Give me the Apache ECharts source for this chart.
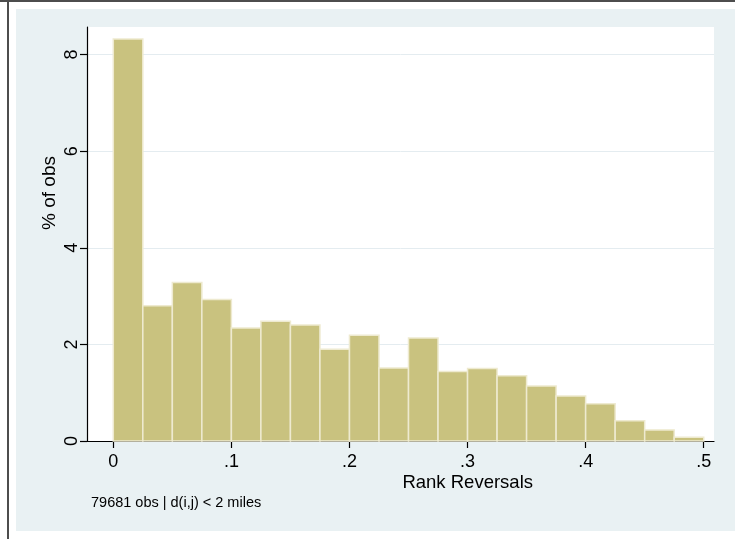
<!DOCTYPE html>
<html>
<head>
<meta charset="utf-8">
<script src="https://cdn.jsdelivr.net/npm/echarts@6/dist/echarts.min.js"></script>
<style>
  html, body { margin: 0; padding: 0; background: #ffffff; }
  #frame { position: absolute; left: 0; top: 0; width: 735px; height: 539px; overflow: hidden; }
  #topRule { position: absolute; left: 0; top: 0; width: 735px; height: 2px; background: #4d4d4d; }
  #leftRule { position: absolute; left: 7px; top: 0; width: 2px; height: 539px; background: #4d4d4d; }
  #region { position: absolute; left: 16px; top: 9px; width: 719px; height: 522px; background: #e9f1f3; }
  #chart { position: absolute; left: 0; top: 0; width: 735px; height: 539px; }
</style>
</head>
<body>
<div id="frame">
  <div id="topRule"></div>
  <div id="leftRule"></div>
  <div id="region"></div>
  <div id="chart"></div>
</div>
<script>
// Histogram bins: left edge of each bin and percent of observations in it
const binStarts = [0, 0.025, 0.05, 0.075, 0.1, 0.125, 0.15, 0.175, 0.2, 0.225,
                   0.25, 0.275, 0.3, 0.325, 0.35, 0.375, 0.4, 0.425, 0.45, 0.475];
const binWidth = 0.025;
const pctObs = [8.32, 2.80, 3.28, 2.93, 2.34, 2.48, 2.40, 1.90, 2.19, 1.51,
                2.13, 1.44, 1.50, 1.35, 1.14, 0.93, 0.77, 0.42, 0.23, 0.08];

// Axis ticks and their labels
const xTicks = [0, 0.1, 0.2, 0.3, 0.4, 0.5];
const xTickLabels = ['0', '.1', '.2', '.3', '.4', '.5'];
const yTicks = [0, 2, 4, 6, 8];
const yTickLabels = ['0', '2', '4', '6', '8'];

const xTitle = 'Rank Reversals';
const yTitle = '% of obs';
const note = '79681 obs | d(i,j) < 2 miles';

const FONT = '"Liberation Sans", Arial, Helvetica, sans-serif';

function lookup(ticks, labels, v) {
  const i = ticks.findIndex(t => Math.abs(t - v) < 1e-9);
  return i >= 0 ? labels[i] : '';
}

const chart = echarts.init(document.getElementById('chart'), null, { renderer: 'canvas' });

chart.setOption({
  backgroundColor: 'transparent',
  animation: false,
  grid: {
    left: 87, top: 27, width: 627, height: 414,
    show: true, backgroundColor: '#ffffff', borderWidth: 0
  },
  xAxis: {
    type: 'value',
    min: -0.02227, max: 0.5087,
    axisLine: { show: true, onZero: false, lineStyle: { color: '#000000', width: 1.2 } },
    axisTick: { show: true, customValues: xTicks, length: 7, lineStyle: { color: '#000000', width: 1.2 } },
    axisLabel: {
      show: true, customValues: xTicks, margin: 12,
      fontFamily: FONT, fontSize: 18, color: '#000000',
      formatter: v => lookup(xTicks, xTickLabels, v)
    },
    splitLine: { show: false }
  },
  yAxis: {
    type: 'value',
    min: 0, max: 8.571, interval: 2,
    axisLine: { show: true, onZero: false, lineStyle: { color: '#000000', width: 1.2 } },
    axisTick: { show: true, customValues: yTicks, length: 7, lineStyle: { color: '#000000', width: 1.2 } },
    axisLabel: {
      show: true, customValues: yTicks, margin: 6, rotate: 90,
      fontFamily: FONT, fontSize: 18, color: '#000000',
      formatter: v => lookup(yTicks, yTickLabels, v)
    },
    splitLine: { show: true, lineStyle: { color: '#e4ecf0', width: 1 } }
  },
  series: [{
    type: 'custom',
    data: binStarts.map((s, i) => [s, s + binWidth, pctObs[i]]),
    encode: { x: [0, 1], y: 2 },
    renderItem: function (params, api) {
      const top = api.coord([api.value(0), api.value(2)]);
      const base = api.coord([api.value(1), 0]);
      return {
        type: 'rect',
        shape: { x: top[0], y: top[1], width: base[0] - top[0], height: base[1] - top[1] },
        style: { fill: '#c9c27f', stroke: '#eeead0', lineWidth: 1.5 }
      };
    }
  }],
  graphic: [
    {
      type: 'text', x: 50, y: 193, rotation: Math.PI / 2,
      style: { text: yTitle, fontFamily: FONT, fontSize: 19, fill: '#000000', align: 'center', verticalAlign: 'middle' }
    },
    {
      type: 'text', x: 533, y: 483,
      style: { text: xTitle, fontFamily: FONT, fontSize: 18.5, fill: '#000000', align: 'right', verticalAlign: 'middle' }
    },
    {
      type: 'text', x: 91, y: 503,
      style: { text: note, fontFamily: FONT, fontSize: 14.5, fill: '#000000', align: 'left', verticalAlign: 'middle' }
    }
  ]
});
</script>
</body>
</html>
